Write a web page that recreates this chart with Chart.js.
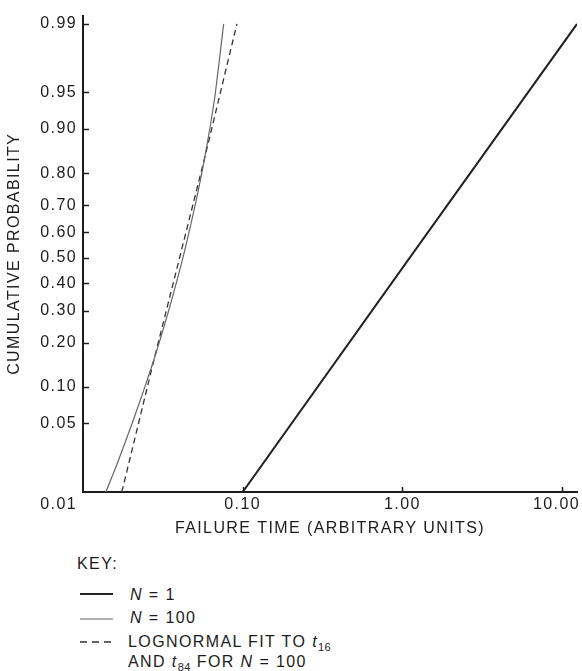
<!DOCTYPE html>
<html>
<head>
<meta charset="utf-8">
<script src="https://cdn.jsdelivr.net/npm/chart.js@4.4.1/dist/chart.umd.min.js"></script>
<style>
  html, body { margin: 0; padding: 0; background: #fff; }
  #wrap {
    position: relative; width: 582px; height: 671px;
    font-family: "Liberation Sans", Arial, sans-serif; font-size: 16px;
    letter-spacing: 1.4px; color: #1c1c1c;
  }
  #plot { position: absolute; left: 0; top: 0; width: 582px; height: 545px; }
  .txt { position: absolute; line-height: 20px; white-space: nowrap; }
  .txt sub { font-size: 11px; vertical-align: -4px; line-height: 0; letter-spacing: 0.5px; }
  .sw { position: absolute; left: 80px; }
</style>
</head>
<body>
<div id="wrap">
  <div id="plot"><canvas id="chart"></canvas></div>

  <div class="txt" style="left:77px; top:554px">KEY:</div>

  <svg class="sw" style="top:589px" width="34" height="10"><line x1="0" y1="5" x2="33" y2="5" stroke="#222" stroke-width="2"/></svg>
  <div class="txt" style="left:130px; top:585px"><i>N</i> = 1</div>

  <svg class="sw" style="top:614px" width="34" height="10"><line x1="0" y1="5" x2="33" y2="5" stroke="#666" stroke-width="1.2"/></svg>
  <div class="txt" style="left:130px; top:608px"><i>N</i> = 100</div>

  <svg class="sw" style="top:637px" width="34" height="10"><line x1="0" y1="5" x2="33" y2="5" stroke="#333" stroke-width="1.3" stroke-dasharray="7 5"/></svg>
  <div class="txt" style="left:128px; top:632px">LOGNORMAL FIT TO <i>t</i><sub>16</sub></div>
  <div class="txt" style="left:128px; top:652px">AND <i>t</i><sub>84</sub> FOR <i>N</i> = 100</div>
</div>

<script>
// probability paper ticks
const yTickProbs = [0.99, 0.95, 0.90, 0.80, 0.70, 0.60, 0.50, 0.40, 0.30, 0.20, 0.10, 0.05];
const yTickLabels = ['0.99', '0.95', '0.90', '0.80', '0.70', '0.60', '0.50', '0.40', '0.30', '0.20', '0.10', '0.05'];
const xTickValues = [0.01, 0.1, 1, 10];
const xTickLabels = ['0.01', '0.10', '1.00', '10.00'];

// N = 1
const n1Time = [0.10, 1.11, 12.4];
const n1Prob = [0.01, 0.50, 0.99];

// N = 100
const n100Time = [0.0139, 0.0163, 0.0203, 0.0244, 0.0280, 0.0300, 0.0344, 0.0422, 0.0504, 0.0554, 0.0578, 0.0622, 0.0675, 0.0760];
const n100Prob = [0.01, 0.02, 0.05, 0.10, 0.16, 0.20, 0.30, 0.50, 0.70, 0.80, 0.84, 0.90, 0.95, 0.99];

// lognormal fit through t16 and t84 of N = 100
const fitTime = [0.0175, 0.0280, 0.0578, 0.0920];
const fitProb = [0.01, 0.16, 0.84, 0.99];

const inkColor = '#1c1c1c';

// inverse normal CDF (Acklam)
function probit(p) {
  const a = [-39.69683028665376, 220.9460984245205, -275.9285104469687, 138.3577518672690, -30.66479806614716, 2.506628277459239];
  const b = [-54.47609879822406, 161.5858368580409, -155.6989798598866, 66.80131188771972, -13.28068155288572];
  const c = [-0.007784894002430293, -0.3223964580411365, -2.400758277161838, -2.549732539343734, 4.374664141464968, 2.938163982698783];
  const d = [0.007784695709041462, 0.3224671290700398, 2.445134137142996, 3.754408661907416];
  const pl = 0.02425;
  if (p < pl) {
    const q = Math.sqrt(-2 * Math.log(p));
    return (((((c[0]*q + c[1])*q + c[2])*q + c[3])*q + c[4])*q + c[5]) / ((((d[0]*q + d[1])*q + d[2])*q + d[3])*q + 1);
  }
  if (p > 1 - pl) {
    const q = Math.sqrt(-2 * Math.log(1 - p));
    return -(((((c[0]*q + c[1])*q + c[2])*q + c[3])*q + c[4])*q + c[5]) / ((((d[0]*q + d[1])*q + d[2])*q + d[3])*q + 1);
  }
  const q = p - 0.5, r = q * q;
  return (((((a[0]*r + a[1])*r + a[2])*r + a[3])*r + a[4])*r + a[5])*q / (((((b[0]*r + b[1])*r + b[2])*r + b[3])*r + b[4])*r + 1);
}

// normal CDF, used for the inverse mapping
function normCdf(z) {
  const t = 1 / (1 + 0.2316419 * Math.abs(z));
  const poly = t * (0.319381530 + t * (-0.356563782 + t * (1.781477937 + t * (-1.821255978 + t * 1.330274429))));
  const tail = Math.exp(-z * z / 2) / Math.sqrt(2 * Math.PI) * poly;
  return z >= 0 ? 1 - tail : tail;
}

// normal probability axis
class ProbabilityScale extends Chart.LinearScale {
  buildTicks() {
    return yTickProbs.map(v => ({ value: v }));
  }
  getPixelForValue(value) {
    const zMin = probit(this.min), zMax = probit(this.max);
    return this.getPixelForDecimal((probit(value) - zMin) / (zMax - zMin));
  }
  getValueForPixel(pixel) {
    const zMin = probit(this.min), zMax = probit(this.max);
    return normCdf(zMin + this.getDecimalForPixel(pixel) * (zMax - zMin));
  }
}
ProbabilityScale.id = 'probability';
ProbabilityScale.defaults = {};
Chart.register(ProbabilityScale);

function toPoints(times, probs) {
  return times.map((t, i) => ({ x: t, y: probs[i] }));
}

// inward tick marks and the time labels under the axis
const paperMarks = {
  id: 'paperMarks',
  beforeDraw(chart) {
    chart.ctx.letterSpacing = '1.4px';
  },
  afterDraw(chart) {
    const { ctx, chartArea, scales: { x, y } } = chart;
    ctx.save();
    ctx.strokeStyle = inkColor;
    ctx.lineWidth = 1.5;
    yTickProbs.forEach(p => {
      const py = Math.round(y.getPixelForValue(p)) + 0.5;
      ctx.beginPath();
      ctx.moveTo(chartArea.left, py);
      ctx.lineTo(chartArea.left + 6, py);
      ctx.stroke();
    });
    xTickValues.slice(1).forEach(v => {
      const px = Math.round(x.getPixelForValue(v)) + 0.5;
      ctx.beginPath();
      ctx.moveTo(px, chartArea.bottom);
      ctx.lineTo(px, chartArea.bottom - 5);
      ctx.stroke();
    });

    ctx.font = '16px "Liberation Sans", Arial, sans-serif';
    ctx.fillStyle = inkColor;
    ctx.textAlign = 'center';
    ctx.textBaseline = 'middle';
    xTickValues.forEach((v, i) => {
      const w = ctx.measureText(xTickLabels[i]).width;
      let cx = x.getPixelForValue(v);
      if (i === 0) cx = chartArea.left - 6 - w / 2;
      cx = Math.min(cx, chart.width - 2 - w / 2);
      ctx.fillText(xTickLabels[i], cx, chartArea.bottom + 13);
    });
    ctx.restore();
  }
};

new Chart(document.getElementById('chart'), {
  type: 'scatter',
  data: {
    datasets: [
      {
        label: 'N = 1',
        data: toPoints(n1Time, n1Prob),
        showLine: true,
        borderColor: '#222',
        borderWidth: 2,
        tension: 0
      },
      {
        label: 'N = 100',
        data: toPoints(n100Time, n100Prob),
        showLine: true,
        borderColor: '#666',
        borderWidth: 1.2,
        tension: 0.2
      },
      {
        label: 'Lognormal fit',
        data: toPoints(fitTime, fitProb),
        showLine: true,
        borderColor: '#333',
        borderWidth: 1.3,
        borderDash: [6, 4],
        tension: 0
      }
    ]
  },
  options: {
    responsive: true,
    maintainAspectRatio: false,
    animation: false,
    events: [],
    layout: { padding: { top: 15, right: 5, left: 0, bottom: 0 } },
    elements: { point: { radius: 0 } },
    plugins: { legend: { display: false }, tooltip: { enabled: false } },
    scales: {
      x: {
        type: 'logarithmic',
        min: 0.01,
        max: 12.4,
        afterBuildTicks: s => { s.ticks = xTickValues.map(v => ({ value: v })); },
        afterFit: s => { s.height = 53; },
        grid: { display: false },
        border: { display: true, color: inkColor, width: 2 },
        ticks: { display: false },
        title: {
          display: true,
          text: 'FAILURE TIME (ARBITRARY UNITS)',
          color: inkColor,
          font: { family: '"Liberation Sans", Arial, sans-serif', size: 16 },
          padding: { top: 0, bottom: 7 }
        }
      },
      y: {
        type: 'probability',
        min: 0.01,
        max: 0.992,
        afterFit: s => { s.width = 83; },
        grid: { display: false, drawTicks: false },
        border: { display: true, color: inkColor, width: 2 },
        ticks: {
          autoSkip: false,
          padding: 6,
          color: inkColor,
          font: { family: '"Liberation Sans", Arial, sans-serif', size: 16 },
          callback: (v, i) => yTickLabels[i]
        },
        title: {
          display: true,
          text: 'CUMULATIVE PROBABILITY',
          color: inkColor,
          font: { family: '"Liberation Sans", Arial, sans-serif', size: 16 },
          padding: { top: 5, bottom: 0 }
        }
      }
    }
  },
  plugins: [paperMarks]
});
</script>
</body>
</html>
